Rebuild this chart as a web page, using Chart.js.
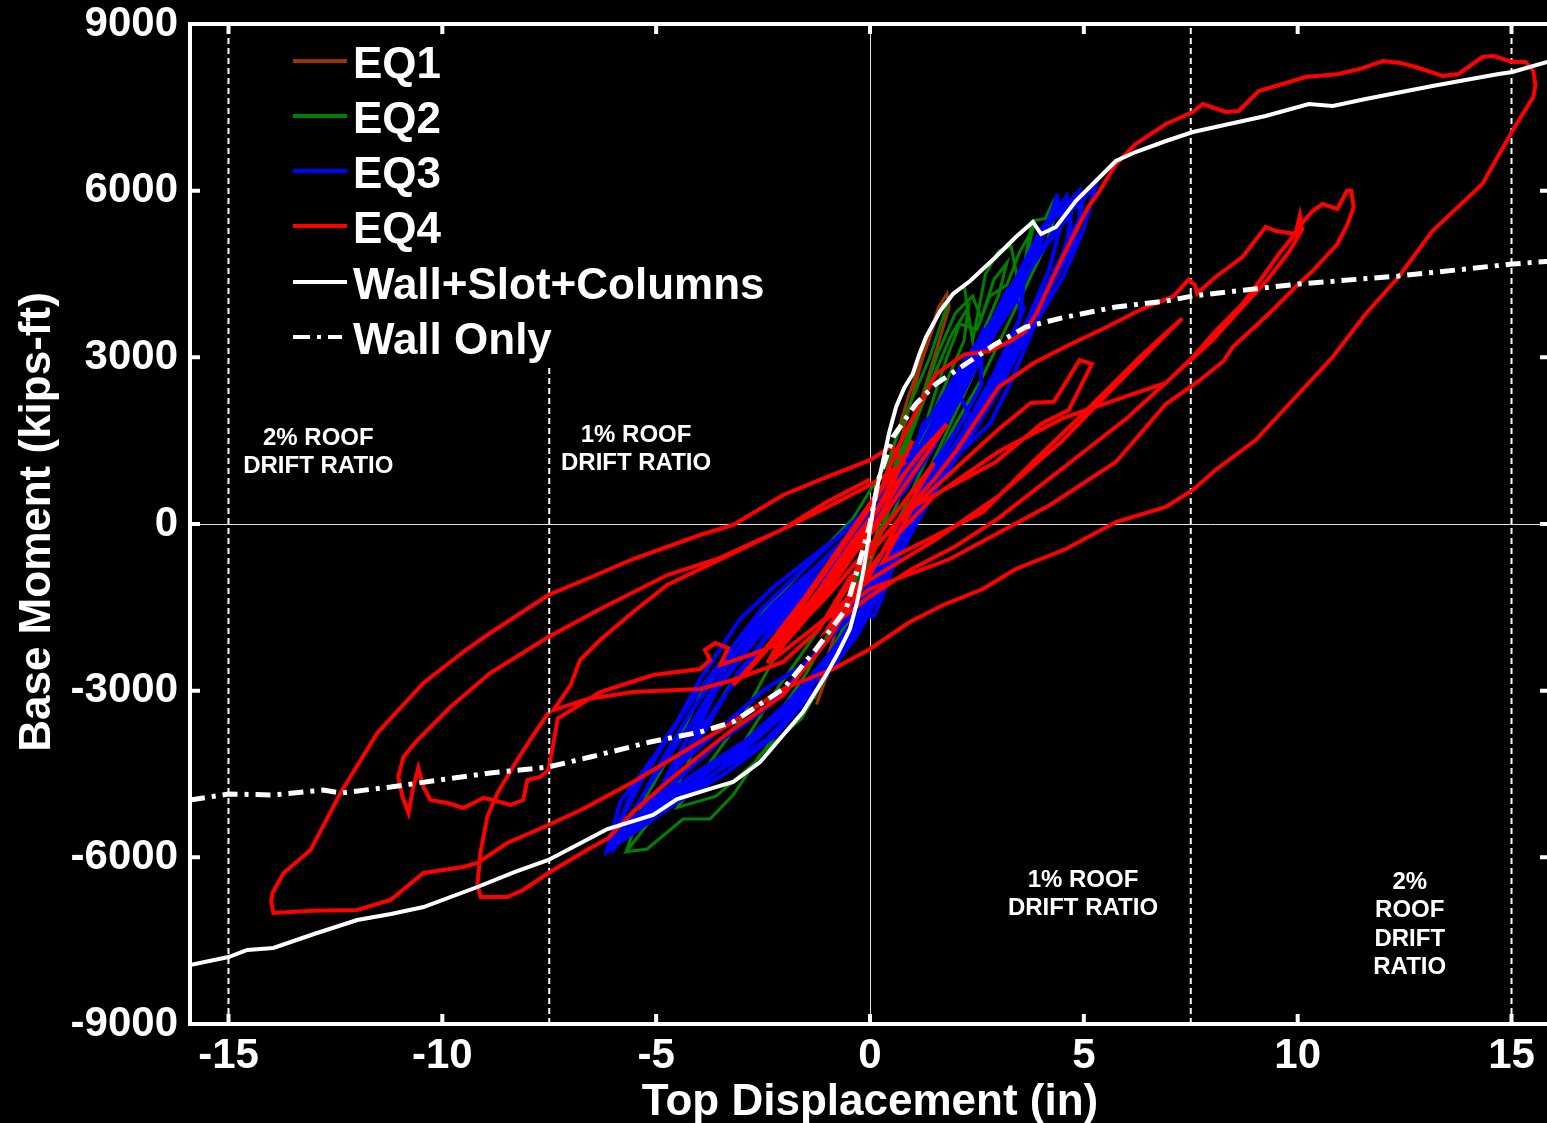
<!DOCTYPE html>
<html>
<head>
<meta charset="utf-8">
<title>Base Moment vs Top Displacement</title>
<script src="https://cdn.jsdelivr.net/npm/chart.js@4.4.1/dist/chart.umd.min.js"></script>
<style>
    html, body { margin: 0; padding: 0; background: #000; overflow: hidden; }
    #wrap { position: relative; width: 1552px; height: 1123px; }
</style>
</head>
<body>
<div id="wrap"><canvas id="hystChart" width="1552" height="1123"></canvas></div>
<script>

// ------------------------
// Data (x = top displacement in, y = base moment kips-ft)
// ------------------------

const xTickValues = [-15, -10, -5, 0, 5, 10, 15];
const yTickValues = [-9000, -6000, -3000, 0, 3000, 6000, 9000];
const driftX = [-15, -7.5, 7.5, 15];

const eq1 = [
    [-1.3,-3150],[-1.0,-2400],[-0.6,-1500],[-0.2,-500],[0.2,400],[0.55,1400],[0.9,2300],[1.3,3200],[1.6,3900],[1.8,4150],
    [1.85,3900],[1.5,3000],[1.1,2000],[0.7,900],[0.3,-100],[-0.2,-1100],[-0.7,-2200],[-1.1,-2900],[-1.25,-3250],
    [-0.9,-2500],[-0.4,-1400],[0.1,-300],[0.5,800],[0.85,1900],[1.2,2900],[1.55,3700],[1.7,4000]
];

const eq2 = [
    [-5.7,-5900],[-5.3,-5000],[-4.77,-4284],[-4.3,-3600],[-3.97,-3078],[-3.3,-2300],[-2.4,-1500],[-1.4,-700],[-0.4,100],
    [0.4,1100],[0.9,2100],[1.4,3000],[1.87,4086],[2.2,4300],[2.4,3300],[2.7,4500],[3.01,4914],[3.3,5000],[3.5,4200],
    [3.79,5454],[4.1,5500],[4.28,5796],[4.35,5600],[4.1,5000],[3.6,4200],[3.1,3400],[2.6,2600],[2.0,1800],[1.4,900],
    [0.8,0],[0.2,-900],[-0.4,-1800],[-1.0,-2700],[-1.6,-3500],[-2.57,-4158],[-3.2,-4878],[-3.74,-5310],[-4.37,-5310],
    [-5.21,-5850],[-5.7,-5900],
    [-4.5,-4700],[-3.9,-3700],[-3.2,-2800],[-2.3,-1900],[-1.3,-1000],[-0.3,-100],[0.5,900],[1.1,2000],[1.6,3100],
    [2.0,3800],[2.4,4100],[2.6,3700],[2.9,4400],[3.2,4700],[3.0,4100],[2.5,3200],[2.0,2300],[1.4,1300],[0.8,300],
    [0.2,-700],[-0.5,-1700],[-1.2,-2700],[-1.9,-3500],[-2.7,-4300],[-3.6,-4900],[-4.5,-5100],
    [-3.0,-3500],[-2.3,-2500],[-1.4,-1500],[-0.5,-600],[0.3,400],[0.9,1500],[1.4,2500],[1.9,3400],[2.3,3900],
    [2.2,3300],[1.7,2400],[1.2,1500],[0.6,500],[0,-500],[-0.7,-1600],[-1.5,-2700],[-2.3,-3600],[-3.0,-4000],
    [-2.2,-3000],[-1.2,-1900],[-0.2,-800],[0.6,300],[1.1,1300],[1.5,2300],[1.8,3000],[2.1,3600],[2.5,3500],[2.8,4100],
    [3.2,4300],[3.5,4900],[3.8,5300],[3.6,4600],[3.1,3800],[2.6,3000],[2.0,2000],[1.4,1000]
];

const eq3 = [
    [-2.8,-2500],[-2.2,-1700],[-1.0,-800],[0.2,100],[1.0,900],[1.6,1800],[2.1,2300],
    [2.3,2000],[1.5,1100],[0.8,100],[0.2,-900],[-0.5,-1700],[-1.5,-2500],[-2.5,-3000],
    [-4.4,-4300],[-3.6,-3000],[-2.7,-2000],[-1.5,-1000],[-0.2,0],[0.9,1000],[1.7,2000],[2.4,2900],[3.0,3700],[3.3,4100],
    [3.6,3900],[3.1,2900],[2.5,2000],[1.6,1000],[0.8,-100],[0.1,-1200],[-0.8,-2300],[-2.0,-3400],[-3.3,-4200],[-4.5,-4700],
    [-6.14,-5850],[-5.84,-5004],[-5.14,-4284],[-4.51,-3564],[-3.97,-2790],[-3.5,-2250],[-3.04,-1710],[-2.2,-1100],
    [-1.2,-500],[0,200],[0.79,738],[1.24,1800],[2.01,2394],[2.64,3474],[2.75,3200],[3.27,4086],[3.74,4806],[4.04,5166],
    [4.35,5850],[4.45,5600],[4.8,5700],[5.28,6100],
    [4.98,5274],[4.51,4446],[3.86,3600],[3.27,2520],[2.8,1800],[1.87,1116],[1.24,216],[0.54,-684],[0.3,-1278],
    [0.1,-1650],[-0.3,-1700],[-1.0,-2500],[-1.7,-3300],[-2.41,-3870],[-3.2,-4284],[-3.97,-4644],[-4.74,-4950],
    [-5.54,-5364],[-6.0,-5850],
    [-6.0,-5600],[-5.4,-4700],[-4.7,-3800],[-4.0,-3000],[-3.2,-2200],[-2.2,-1400],[-1.0,-600],[0.3,300],[1.1,1200],
    [1.8,2200],[2.5,3100],[3.2,3900],[3.8,4700],[4.5,5500],[5.0,5900],
    [4.8,5100],[4.2,4200],[3.6,3300],[3.0,2400],[2.3,1500],[1.5,600],[0.8,-400],[0.2,-1300],[-0.5,-2100],[-1.4,-2900],
    [-2.3,-3600],[-3.3,-4100],[-4.3,-4600],[-5.3,-5200],[-5.9,-5700],
    [-5.6,-5300],[-4.9,-4300],[-4.2,-3400],[-3.5,-2600],[-2.6,-1800],[-1.6,-1000],[-0.4,-200],[0.6,600],[1.4,1500],
    [2.2,2600],[2.9,3400],[3.5,4300],[4.1,5000],[4.7,5600],
    [4.6,5000],[4.0,4000],[3.4,3100],[2.7,2200],[1.9,1300],[1.1,400],[0.5,-500],[-0.1,-1400],[-0.9,-2300],[-1.9,-3200],
    [-2.9,-3900],[-3.9,-4400],[-4.9,-5000],[-5.6,-5500],
    [-5.0,-4900],[-4.3,-3900],[-3.6,-3000],[-2.8,-2200],[-1.9,-1400],[-0.8,-600],[0.4,300],[1.3,1300],[2.0,2200],
    [2.7,3200],[3.4,4000],[3.9,4900],[4.39,5850],[4.5,5500],
    [4.2,4600],[3.7,3700],[3.1,2800],[2.5,1900],[1.7,900],[0.9,0],[0.3,-900],[-0.4,-1800],[-1.3,-2700],[-2.4,-3600],
    [-3.5,-4300],[-4.6,-4900],[-5.5,-5400],
    [-3.5,-3200],[-2.6,-2200],[-1.5,-1300],[-0.3,-400],[0.8,600],[1.5,1400],[2.2,2400],[2.6,3000],
    [2.6,2500],[1.9,1500],[1.1,500],[0.5,-400],[-0.2,-1300],[-1.2,-2300],[-2.4,-3300],[-3.5,-3900],
    [-5.8,-5500],[-5.0,-4500],[-4.1,-3500],[-3.3,-2500],[-2.4,-1600],[-1.3,-800],[-0.1,100],[0.9,1000],[1.6,2000],
    [2.3,3000],[3.0,3800],[3.6,4600],[4.2,5400],[4.9,6000],
    [4.9,5500],[4.4,4700],[3.9,3900],[3.3,3000],[2.6,2000],[1.8,1000],[1.0,0],[0.4,-1000],[-0.3,-2000],[-1.2,-2900],
    [-2.2,-3800],[-3.4,-4500],[-4.5,-5000],[-5.8,-5700],
    [-6.1,-5800],[-5.6,-4900],[-4.9,-4000],[-4.2,-3200],[-3.4,-2400],[-2.5,-1500],[-1.4,-700],[-0.3,100],[0.7,900],
    [1.4,1900],[2.1,2800],[2.8,3600],[3.4,4400],[4.0,5300],[4.6,5900],
    [4.7,5300],[4.3,4400],[3.7,3500],[3.1,2600],[2.4,1700],[1.6,700],[0.9,-200],[0.3,-1100],[-0.5,-2000],[-1.6,-3000],
    [-2.7,-3900],[-3.8,-4600],[-5.0,-5200],[-6.0,-5800],
    [-4.0,-3900],[-3.1,-2700],[-2.0,-1600],[-0.8,-700],[0.4,400],[1.3,1400],[2.0,2500],[2.7,3400],[3.2,4200],[3.6,4400],
    [3.5,3700],[2.9,2700],[2.2,1700],[1.4,700],[0.7,-300],[0.1,-1300],[-0.7,-2300],[-1.8,-3300],[-3.0,-4100],[-4.0,-4500]
];

const eq4 = [
    // centre cycles
    [-0.2,-300],[0.6,900],[1.0,1500],[0.5,700],[-0.5,-600],[-1.5,-1700],[-2.2,-2300],[-1.5,-1600],[-0.5,-500],
    [0.4,500],[1.2,1300],[1.8,1800],[1.0,900],[0,-200],[-1.0,-1100],[-2.0,-1900],[-2.8,-2600],[-3.2,-2900],
    [-2.5,-2300],[-1.5,-1300],[-0.6,-300],[0.3,700],
    // large positive excursion and big negative loop
    [0.6,1300],[1.0,1900],[1.54,2700],[2.2,3050],[2.8,3114],[3.3,3300],[3.64,3474],[3.9,3800],[4.21,4320],[4.5,4800],
    [4.81,5274],[5.1,5700],[5.37,5994],[5.75,6480],[6.21,6840],[6.92,7200],[7.55,7416],[7.78,7560],[8.32,7416],
    [8.62,7434],[9.09,7794],[9.49,7884],[10.19,8046],[10.96,8100],[11.5,8200],[11.99,8334],[12.4,8300],[12.76,8226],
    [13.39,8064],[13.76,8100],[14.32,8406],[14.58,8424],[15.02,8316],[15.33,8316],[15.51,8154],[15.56,7900],
    [15.51,7686],[15.02,7074],[14.32,6120],[13.15,5274],[12.36,4446],[11.59,3780],[10.82,3006],[9.65,2034],
    [9.02,1512],[8.08,972],[7.55,612],[6.92,306],[5.75,36],[4.58,-450],[3.41,-810],[2.64,-1170],[1.71,-1458],
    [0.93,-1764],[0,-2250],[-0.86,-2610],[-1.64,-2844],[-2.03,-2970],[-3.2,-3564],[-4.37,-4104],[-5.54,-4644],
    [-6.71,-5130],[-7.52,-5418],[-8.48,-5742],[-9.18,-6102],[-9.51,-6174],[-10.44,-6282],[-11.21,-6768],
    [-11.99,-6948],[-13.0,-6960],[-13.55,-6984],[-13.95,-7002],[-14.0,-6800],[-13.97,-6642],[-13.71,-6282],
    [-13.08,-5868],[-12.38,-4842],[-11.52,-3762],[-10.44,-2862],[-9.42,-2250],[-8.88,-1962],[-7.52,-1278],
    [-6.5,-950],[-5.54,-630],[-3.97,-198],[-3.2,-18],[-2.03,522],[-1.0,850],[0,1150],[0.5,1400],
    // second negative loop with notch
    [0.8,1100],[0,700],[-1,300],[-2.03,-90],[-3.57,-630],[-4.74,-918],[-6.31,-1530],[-7.52,-2034],[-8.88,-2682],
    [-9.81,-3294],[-10.58,-3888],[-10.91,-4194],[-11.03,-4554],[-10.93,-4914],[-10.79,-5202],[-10.68,-4734],
    [-10.56,-4392],[-10.44,-4734],[-10.28,-4968],[-9.88,-5022],[-9.51,-5112],[-9.04,-4932],[-8.81,-4968],
    [-8.41,-5058],[-8.11,-4968],[-8.01,-4608],[-7.71,-4554],[-7.52,-4428],[-7.41,-3978],[-7.3,-3500],
    [-6.31,-3024],[-5.07,-2718],[-3.97,-2610],[-3.74,-2448],[-3.86,-2268],[-3.62,-2142],[-3.32,-2232],[-3.5,-2538],
    [-2.8,-2358],[-2.03,-2124],[-1.0,-1300],[0,-400],[0.8,400],[1.5,1100],
    [0.8,200],[-0.5,-1000],[-1.2,-1900],[-2.03,-2484],[-3.2,-2808],[-3.97,-2970],[-5.54,-3024],[-6.6,-3150],[-7.4,-3350],
    [-7.0,-2900],[-6.78,-2448],[-6.31,-2088],[-5.54,-1584],[-4.74,-1098],[-3.97,-810],[-2.8,-378],[-2.03,-90],
    [-1.0,400],[0,800],
    null,
    [-7.52,-3402],[-7.87,-3798],[-8.25,-4248],[-8.71,-4842],[-8.95,-5274],[-9.11,-5922],[-9.18,-6500],[-9.1,-6714],
    [-8.48,-6714],[-8.11,-6588],[-7.52,-6282],[-6.54,-5832],[-6.14,-5670],[-5.54,-5184],[-4.74,-4644],[-3.97,-4158],
    [-3.2,-3690],[-2.03,-3078],[-1.0,-2100],[0,-900],[0.8,200],[1.5,800],
    // positive side loops
    [2.0,1300],[3.01,2466],[3.83,2898],[4.65,3222],[5.49,3528],[6.31,3852],[7.1,4104],[7.45,4400],[7.6,4300],
    [7.65,4150],[8.08,4446],[8.71,4806],[9.25,5346],[9.49,5274],[9.95,5220],[10.05,5550],[10.1,5300],[9.8,4900],
    [9.3,4400],[8.7,3900],[8.0,3300],[7.0,2600],[6.0,1900],[5.0,1300],[4.0,700],[3.0,100],[2.0,-400],[1.0,-800],
    [0,-1300],[-1,-1900],
    [-0.5,-1300],[0.5,-300],[1.5,500],[3,1300],[4.5,1900],[6.0,2300],[6.92,2538],[7.55,3006],[8.08,3474],[8.71,3960],
    [9.18,4446],[9.56,4860],[9.88,5166],[10.02,5346],[10.35,5634],[10.58,5760],[10.93,5670],[11.15,5994],[11.25,6000],
    [11.31,5706],[11.17,5400],[10.93,5040],[10.65,4806],[10.35,4554],[10.02,4320],[9.49,3906],[9.02,3564],[8.48,3186],
    [8.27,2934],[7.69,2574],[6.92,2160],[5.75,1116],[4.21,342],[1.87,-630],[0,-1170],[-1,-1700],
    [0,-500],[1.07,342],[2.94,1116],[4.0,1800],[4.65,2052],[5.19,2880],[4.9,2950],[4.3,2200],[3.76,2178],[3.0,1700],
    [2.0,1000],[1,300],[0.3,-684],[2.64,216],[3.81,1116],[5.0,2000],[6.3,3000],[6.92,3438],[7.3,3700],
    [6.0,2700],[4.5,1500],[3.0,500],[1.5,-300],[0,-1000],[-1.2,-1800],[-2.2,-2400],
    // late small cycles near the origin
    [-2.0,-2000],[-1.2,-1200],[-0.4,-300],[0.3,400],[0.8,900],[0.2,100],[-0.7,-900],[-1.6,-1800],[-2.4,-2500],
    [-1.8,-1700],[-0.9,-700],[0,300],[0.6,1000]
];

const wallSlotColumns = [
    [-15.9,-7938],[-15.0,-7794],[-14.56,-7668],[-13.95,-7632],[-13.0,-7380],[-11.99,-7128],[-11.2,-7020],[-10.44,-6894],
    [-9.18,-6534],[-8.3,-6260],[-7.52,-6048],[-6.54,-5652],[-6.14,-5490],[-5.07,-5238],[-4.51,-4950],[-3.8,-4780],
    [-3.2,-4644],[-2.57,-4284],[-2.03,-3798],[-1.57,-3384],[-1.03,-2718],[-0.75,-2330],[-0.47,-1890],[-0.3,-1400],
    [-0.16,-864],[0.02,0],[0.12,500],[0.3,1116],[0.45,1650],[0.61,2106],[0.8,2450],[1.0,2700],[1.15,3050],[1.31,3366],
    [1.64,3834],[1.94,4140],[2.34,4374],[2.94,4806],[3.41,5166],[3.81,5436],[4.0,5220],[4.35,5346],[4.81,5814],
    [5.14,6066],[5.75,6534],[6.21,6696],[6.92,6894],[7.55,7056],[8.08,7146],[9.25,7344],[10.26,7560],[10.82,7524],
    [11.59,7650],[13.15,7884],[14.7,8100],[15.02,8136],[15.9,8330]
];

const wallOnly = [
    [-15.9,-4968],[-15.0,-4860],[-13.95,-4878],[-12.78,-4788],[-12.38,-4842],[-11.21,-4734],[-10.0,-4600],
    [-8.88,-4482],[-7.52,-4374],[-6.54,-4194],[-5.14,-3924],[-3.97,-3744],[-3.2,-3564],[-2.03,-2970],[-1.26,-2250],
    [-0.56,-1530],[-0.25,-700],[0.0,0],[0.2,800],[0.54,1566],[1.07,2160],[1.54,2520],[2.34,2934],[2.94,3240],
    [3.64,3546],[4.58,3726],[5.75,3906],[6.92,4014],[7.55,4104],[10.02,4320],[12.36,4464],[13.93,4590],
    [15.02,4680],[15.9,4730]
];

// ------------------------
// Text
// ------------------------

const FONT = '"Liberation Sans", Arial, sans-serif';

const notes = [
    { x: -12.9, y: 1584, lines: ["2% ROOF", "DRIFT RATIO"] },
    { x: -5.47, y: 1638, lines: ["1% ROOF", "DRIFT RATIO"] },
    { x: 4.98, y: -6372, lines: ["1% ROOF", "DRIFT RATIO"] },
    { x: 12.62, y: -6408, lines: ["2%", "ROOF", "DRIFT", "RATIO"] }
];

function toPoints(arr) {
    return arr.map(p => p === null ? { x: null, y: null } : { x: p[0], y: p[1] });
}

function driftPoints() {
    const pts = [];
    driftX.forEach(v => {
        pts.push({ x: v, y: -9000 }, { x: v, y: 9000 }, { x: null, y: null });
    });
    return pts;
}

function line(label, data, color, width, order, dash) {
    return {
        label: label,
        data: toPoints(data),
        borderColor: color,
        backgroundColor: color,
        borderWidth: width,
        borderDash: dash || [],
        showLine: true,
        pointRadius: 0,
        tension: 0,
        spanGaps: false,
        order: order
    };
}

// ------------------------
// Overlay: legend, notes, frame, titles
// ------------------------

const overlay = {

    id: "overlay",

    afterDatasetsDraw(chart) {

        const { ctx, chartArea: a, scales: { x, y } } = chart;

        ctx.save();

        ctx.fillStyle = "#000";
        ctx.fillRect(282, a.top + 3, 500, 338);

        const rows = [62, 117, 172, 227, 283, 338];

        chart.data.datasets.filter(d => d.inLegend).forEach((d, i) => {

            ctx.strokeStyle = d.borderColor;
            ctx.lineWidth = 4;
            ctx.setLineDash(d.legendDash || []);
            ctx.beginPath();
            ctx.moveTo(293, rows[i] - 1);
            ctx.lineTo(347, rows[i] - 1);
            ctx.stroke();

            ctx.setLineDash([]);
            ctx.fillStyle = "#fff";
            ctx.font = "bold 44px " + FONT;
            ctx.textAlign = "left";
            ctx.textBaseline = "alphabetic";
            ctx.fillText(d.label, 353, rows[i] + 16);

        });

        ctx.font = "bold 24px " + FONT;
        ctx.textAlign = "center";
        ctx.fillStyle = "#fff";

        notes.forEach(n => {
            const px = x.getPixelForValue(n.x);
            const py = y.getPixelForValue(n.y);
            n.lines.forEach((t, i) => ctx.fillText(t, px, py + 8.6 + i * 28.6));
        });

        ctx.restore();

    },

    afterDraw(chart) {

        const { ctx, chartArea: a, scales: { x, y } } = chart;

        ctx.save();
        ctx.strokeStyle = "#fff";
        ctx.lineWidth = 4;
        ctx.setLineDash([]);

        ctx.beginPath();
        ctx.moveTo(a.left - 2, a.top);
        ctx.lineTo(a.right, a.top);
        ctx.stroke();

        ctx.beginPath();
        xTickValues.forEach(v => {
            const px = x.getPixelForValue(v);
            ctx.moveTo(px, a.bottom);
            ctx.lineTo(px, a.bottom - 10);
            ctx.moveTo(px, a.top);
            ctx.lineTo(px, a.top + 10);
        });
        yTickValues.forEach(v => {
            const py = y.getPixelForValue(v);
            ctx.moveTo(a.left, py);
            ctx.lineTo(a.left + 10, py);
            ctx.moveTo(a.right, py);
            ctx.lineTo(a.right - 10, py);
        });
        ctx.stroke();

        ctx.fillStyle = "#fff";
        ctx.font = "bold 44px " + FONT;
        ctx.textAlign = "center";
        ctx.textBaseline = "alphabetic";
        ctx.fillText("Top Displacement (in)", (a.left + a.right) / 2, 1115);

        ctx.translate(50, 522);
        ctx.rotate(-Math.PI / 2);
        ctx.fillText("Base Moment (kips-ft)", 0, 0);

        ctx.restore();

    }

};

// ------------------------
// Chart
// ------------------------

const tickFont = { family: FONT, size: 42, weight: "bold" };
const zeroGrid = c => (c.tick && c.tick.value === 0) ? "#e0e0e0" : "rgba(0,0,0,0)";

const datasets = [
    line("EQ1", eq1, "#993300", 3, 6),
    line("EQ2", eq2, "#008000", 3, 5),
    line("EQ3", eq3, "#0000ff", 4, 4),
    line("EQ4", eq4, "#ff0000", 4, 3),
    line("Wall+Slot+Columns", wallSlotColumns, "#ffffff", 4, 2),
    line("Wall Only", wallOnly, "#ffffff", 5, 1, [15, 7, 4, 7]),
    line("drift", [], "#ffffff", 2, 10, [6, 4])
];

datasets.forEach(d => { d.inLegend = d.label !== "drift"; });
datasets[5].legendDash = [17, 7, 4, 7, 14];
datasets[6].data = driftPoints();

new Chart(document.getElementById("hystChart"), {

    type: "scatter",

    data: { datasets: datasets },

    options: {

        responsive: false,
        animation: false,
        devicePixelRatio: 1,

        layout: { padding: { top: 24, right: 2, left: 0, bottom: 0 } },

        plugins: {
            legend: { display: false },
            tooltip: { enabled: false }
        },

        scales: {

            x: {
                type: "linear",
                min: -15.9,
                max: 15.9,
                afterBuildTicks: s => { s.ticks = xTickValues.map(v => ({ value: v })); },
                afterFit: s => { s.height = 99; s.paddingLeft = 0; s.paddingRight = 0; },
                grid: { color: zeroGrid, lineWidth: 1, drawTicks: false },
                border: { display: true, color: "#fff", width: 4 },
                ticks: { color: "#fff", font: tickFont, padding: 7, maxRotation: 0, autoSkip: false, callback: v => String(v) }
            },

            y: {
                type: "linear",
                min: -9000,
                max: 9000,
                afterBuildTicks: s => { s.ticks = yTickValues.map(v => ({ value: v })); },
                afterFit: s => { s.width = 190; s.paddingTop = 0; s.paddingBottom = 0; },
                grid: { color: zeroGrid, lineWidth: 1, drawTicks: false },
                border: { display: true, color: "#fff", width: 4 },
                ticks: { color: "#fff", font: tickFont, padding: 12, autoSkip: false, callback: v => String(v) }
            }

        }

    },

    plugins: [overlay]

});

</script>
</body>
</html>
